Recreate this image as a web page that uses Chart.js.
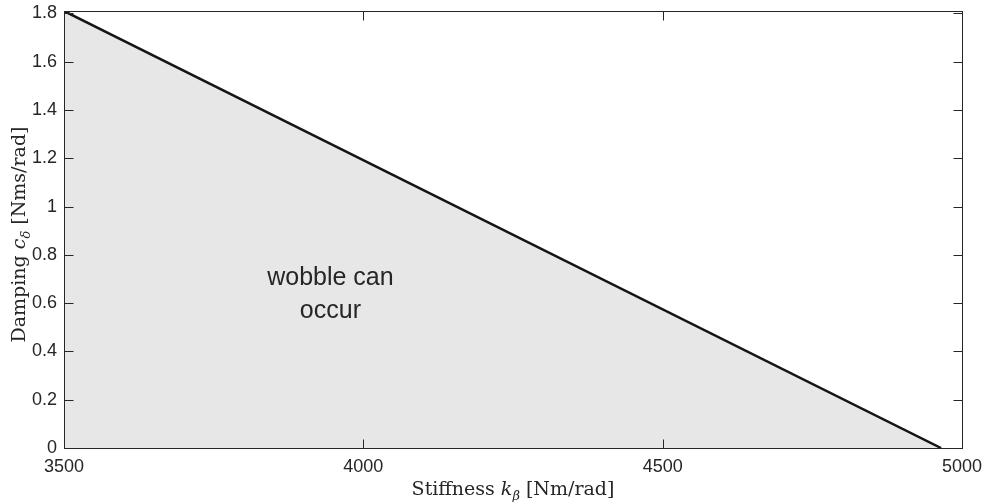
<!DOCTYPE html>
<html>
<head>
<meta charset="utf-8">
<script src="https://cdn.jsdelivr.net/npm/chart.js@4"></script>
<style>
  html, body { margin: 0; padding: 0; background: #ffffff; }
  #wrap { width: 987px; height: 502px; position: relative; }
</style>
</head>
<body>
<div id="wrap"><canvas id="c" width="987" height="502"></canvas></div>
<script>
// ---- data ----
const stiffness = [3500, 4965];          // k_beta [Nm/rad]
const damping   = [1.81, 0];             // c_delta [Nms/rad]
const xTicks = [3500, 4000, 4500, 5000];
const yTicks = [0, 0.2, 0.4, 0.6, 0.8, 1, 1.2, 1.4, 1.6, 1.8];
const xRange = [3500, 5000];
const yRange = [0, 1.81];
const regionLabel = ['wobble can', 'occur'];
const regionLabelAt = { x: 3945, y: 0.64 };
const xTitleParts = [['Stiffness ', 'n'], ['k', 'i'], ['β', 's'], [' [Nm/rad]', 'n']];
const yTitleParts = [['Damping ', 'n'], ['c', 'i'], ['δ', 's'], [' [Nms/rad]', 'n']];

const points = stiffness.map((x, i) => ({ x: x, y: damping[i] }));
const AX = '#262626';
const SERIF = '"DejaVu Serif", serif';
const SANS = '"Liberation Sans", Arial, sans-serif';

function fmt(v) { return String(Number(v.toFixed(2))); }

function drawRich(ctx, parts, size) {
  const fonts = parts.map(p => p[1] === 'n' ? `${size}px ${SERIF}` :
                              p[1] === 'i' ? `italic ${size}px ${SERIF}` :
                              `italic ${Math.round(size * 0.7)}px ${SERIF}`);
  let total = 0;
  const widths = parts.map((p, i) => { ctx.font = fonts[i]; const w = ctx.measureText(p[0]).width; total += w; return w; });
  let x = -total / 2;
  parts.forEach((p, i) => {
    ctx.font = fonts[i];
    ctx.fillText(p[0], x, p[1] === 's' ? size * 0.25 : 0);
    x += widths[i];
  });
}

const framePlugin = {
  id: 'frame',
  afterDatasetsDraw(chart) {
    const ctx = chart.ctx;
    const a = chart.chartArea;
    const xs = chart.scales.x, ys = chart.scales.y;
    ctx.save();
    // region label
    ctx.fillStyle = AX;
    ctx.font = `25px ${SANS}`;
    ctx.textAlign = 'center';
    ctx.textBaseline = 'alphabetic';
    const cx = xs.getPixelForValue(regionLabelAt.x);
    const cy = ys.getPixelForValue(regionLabelAt.y);
    ctx.fillText(regionLabel[0], cx, cy - 8);
    ctx.fillText(regionLabel[1], cx, cy + 25);
    // frame
    ctx.strokeStyle = AX;
    ctx.lineWidth = 1;
    const L = Math.round(a.left) + 0.5, R = Math.round(a.right) + 0.5;
    const T = Math.round(a.top) + 0.5, B = Math.round(a.bottom) + 0.5;
    ctx.strokeRect(L, T, R - L, B - T);
    const tl = 9;
    ctx.beginPath();
    xTicks.forEach(v => {
      const px = Math.round(xs.getPixelForValue(v)) + 0.5;
      ctx.moveTo(px, B); ctx.lineTo(px, B - tl);
      ctx.moveTo(px, T); ctx.lineTo(px, T + tl);
    });
    yTicks.forEach(v => {
      const py = Math.round(ys.getPixelForValue(v)) + 0.5;
      ctx.moveTo(L, py); ctx.lineTo(L + tl, py);
      ctx.moveTo(R, py); ctx.lineTo(R - tl, py);
    });
    ctx.stroke();
    // axis titles
    ctx.fillStyle = AX;
    ctx.textAlign = 'left';
    ctx.textBaseline = 'alphabetic';
    ctx.save();
    ctx.translate((a.left + a.right) / 2, 495);
    drawRich(ctx, xTitleParts, 19);
    ctx.restore();
    ctx.save();
    ctx.translate(25, (a.top + a.bottom) / 2 + 5);
    ctx.rotate(-Math.PI / 2);
    drawRich(ctx, yTitleParts, 19);
    ctx.restore();
    ctx.restore();
  }
};

new Chart(document.getElementById('c'), {
  type: 'scatter',
  data: {
    datasets: [{
      data: points,
      showLine: true,
      borderColor: '#151515',
      borderWidth: 2.5,
      backgroundColor: '#e6e7e6',
      fill: 'origin',
      pointRadius: 0,
      tension: 0
    }]
  },
  options: {
    responsive: false,
    animation: false,
    layout: { padding: { top: 11, right: 25, left: 0, bottom: 0 } },
    plugins: { legend: { display: false }, tooltip: { enabled: false } },
    scales: {
      x: {
        type: 'linear', min: xRange[0], max: xRange[1],
        afterBuildTicks: s => { s.ticks = xTicks.map(v => ({ value: v })); },
        afterFit: s => { s.height = 54; s.paddingLeft = 0; s.paddingRight = 0; },
        grid: { display: false, drawTicks: false },
        border: { display: false },
        ticks: { color: AX, font: { family: SANS, size: 18 }, padding: 8, maxRotation: 0, callback: v => fmt(v) }
      },
      y: {
        type: 'linear', min: yRange[0], max: yRange[1],
        afterBuildTicks: s => { s.ticks = yTicks.map(v => ({ value: v })); },
        afterFit: s => { s.width = 64; s.paddingTop = 0; s.paddingBottom = 0; },
        grid: { display: false, drawTicks: false },
        border: { display: false },
        ticks: { color: AX, font: { family: SANS, size: 18 }, padding: 7, callback: v => fmt(v) }
      }
    }
  },
  plugins: [framePlugin]
});
</script>
</body>
</html>
